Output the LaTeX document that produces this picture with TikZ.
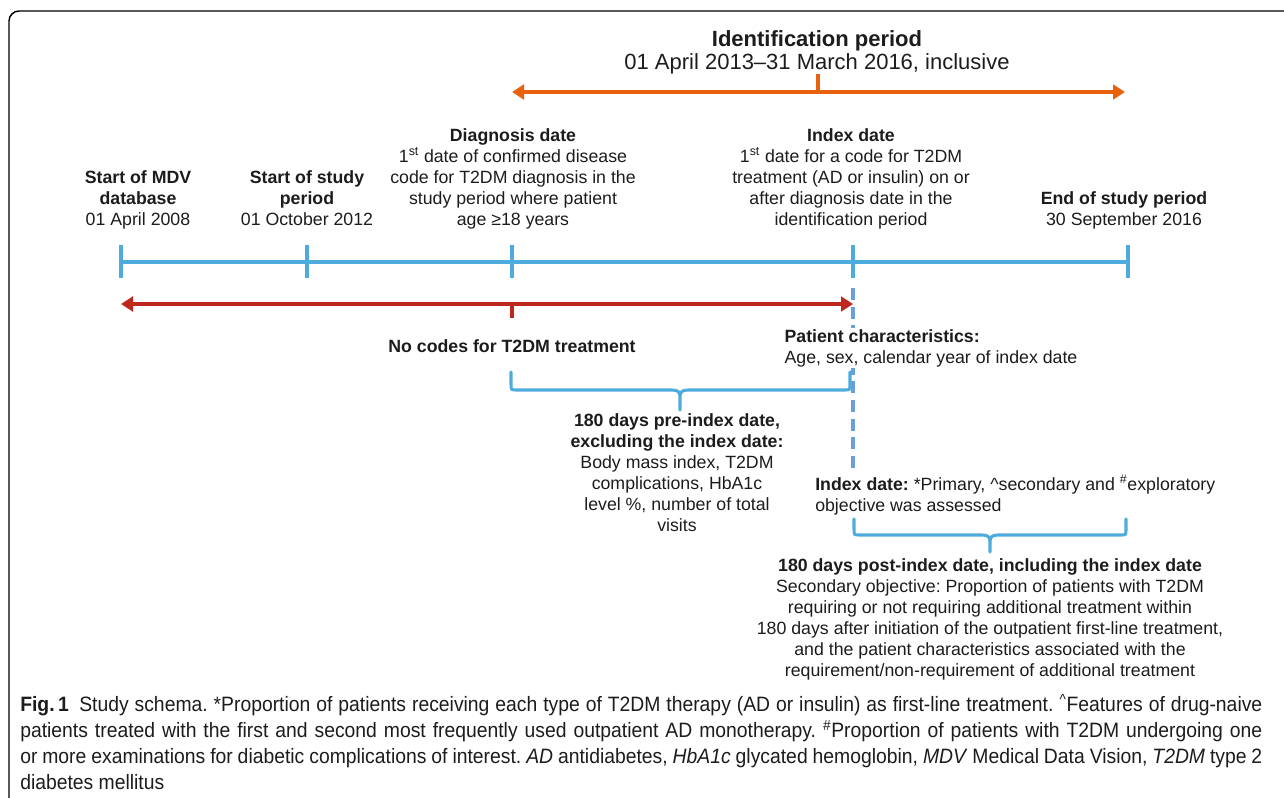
\documentclass[tikz,border=0pt]{standalone}
\usepackage{fontspec}
\setmainfont{Liberation Sans}
\newfontfamily\capfont[FakeStretch=0.93]{Liberation Sans}
\usetikzlibrary{arrows.meta}
\definecolor{tlblue}{RGB}{77,171,221}
\definecolor{dashblue}{RGB}{106,160,218}
\definecolor{idorange}{RGB}{232,98,14}
\definecolor{nored}{RGB}{190,40,30}
\definecolor{txt}{RGB}{28,28,28}
\newcommand\ubrace[6]{%
  \draw[bracestyle] (#1,#4) -- (#1,{#5-6}) .. controls (#1,#5) .. ({#1+6},#5) -- ({#3-8},#5)
    .. controls ({#3-2},#5) and (#3,{#5+2}) .. (#3,{#5+7}) -- (#3,#6)
    (#3,{#5+7}) .. controls (#3,{#5+2}) and ({#3+2},#5) .. ({#3+8},#5) -- ({#2-6},#5)
    .. controls (#2,#5) .. (#2,{#5-6}) -- (#2,#4);}
\frenchspacing
\begin{document}
\begin{tikzpicture}[x=0.75pt,y=-0.75pt,
  lbl/.style={inner sep=0pt, align=center, text=txt, font=\fontsize{13.3}{15.75}\selectfont},
  lbll/.style={lbl, align=left},
  tl/.style={draw=tlblue, line width=2.3pt},
  bracestyle/.style={draw=tlblue, line width=2.3pt, line cap=round},
  orangearr/.style={draw=idorange, line width=2.3pt, {Triangle[length=9pt,width=11pt]}-{Triangle[length=9pt,width=11pt]}},
  redarr/.style={draw=nored, line width=2.3pt, {Triangle[length=9pt,width=11pt]}-{Triangle[length=9pt,width=11pt]}},
  dashline/.style={draw=dashblue, line width=2.3pt, dash pattern=on 9pt off 5pt}]
\useasboundingbox (0,0) rectangle (1284,797);
% frame
\draw[line width=1.1pt, rounded corners=7.5pt] (9,800) -- (9,11) -- (1295,11);

% identification period
\node[lbl, anchor=north, font=\fontsize{16.5}{17.4}\selectfont] (idp) at (817,30)
  {{\bfseries Identification period}\\01 April 2013–31 March 2016, inclusive};
\coordinate (o1) at (512,92);
\coordinate (o2) at (1125,92);
\coordinate (oc) at (818,92);
\coordinate (ot) at (818,74);
\draw[orangearr] (o1) -- (o2);
\draw[draw=idorange, line width=2.3pt] (oc) -- (ot);

% timeline labels
\node[lbl, anchor=north] (mdv) at (138,170) {{\bfseries Start of MDV}\\{\bfseries database}\\01 April 2008};
\node[lbl, anchor=north] (sos) at (307,170) {{\bfseries Start of study}\\{\bfseries period}\\01 October 2012};
\node[lbl, anchor=north] (dd) at (513,128) {{\bfseries Diagnosis date}\\1\textsuperscript{st} date of confirmed disease\\code for T2DM diagnosis in the\\study period where patient\\age ≥18 years};
\node[lbl, anchor=north] (ixd) at (851,128) {{\bfseries Index date}\\1\textsuperscript{st} date for a code for T2DM\\treatment (AD or insulin) on or\\after diagnosis date in the\\identification period};
\node[lbl, anchor=north] (eos) at (1124,191) {{\bfseries End of study period}\\30 September 2016};

% timeline
\coordinate (t1) at (121,262);
\coordinate (t2) at (307,262);
\coordinate (t3) at (512,262);
\coordinate (t4) at (853,262);
\coordinate (t5) at (1128,262);
\draw[tl] (t1) -- (t5);
\foreach \p in {t1,t2,t3,t4,t5} \draw[tl] (\p) ++(0,-17) -- ++(0,33);

% red arrow
\coordinate (r1) at (121,304);
\coordinate (r2) at (853,304);
\coordinate (rc) at (512,304);
\coordinate (rt) at (512,318);
\draw[redarr] (r1) -- (r2);
\draw[draw=nored, line width=2.3pt] (rc) -- (rt);
\node[lbl, anchor=north, font=\fontsize{13.3}{15.75}\selectfont\bfseries] (noc) at (512,339) {No codes for T2DM treatment};

% dashed index line
\coordinate (d1) at (853,288);
\coordinate (d2) at (853,469);
\draw[dashline] (d1) -- (d2);

\node[lbll, anchor=north west, fill=white, inner sep=1pt] (pc) at (783,328) {{\bfseries Patient characteristics:}\\Age, sex, calendar year of index date};

% pre-index brace
\ubrace{511}{850}{680}{372}{390}{410}
\node[lbl, anchor=north] (pre) at (677,413) {{\bfseries 180 days pre-index date,}\\{\bfseries excluding the index date:}\\Body mass index, T2DM\\complications, HbA1c\\level \%, number of total\\visits};

\node[lbll, anchor=north west] (obj) at (815,475) {{\bfseries Index date:} *Primary, \textasciicircum secondary and \textsuperscript{\#}exploratory\\objective was assessed};

% post-index brace
\ubrace{854}{1126}{990}{519}{535}{552}
\node[lbl, anchor=north] (post) at (990,558) {{\bfseries 180 days post-index date, including the index date}\\Secondary objective: Proportion of patients with T2DM\\requiring or not requiring additional treatment within\\180 days after initiation of the outpatient first-line treatment,\\and the patient characteristics associated with the\\requirement/non-requirement of additional treatment};

% caption
\node[anchor=north west, inner sep=0pt, text width=931.5pt, align=justify, text=txt,
  font=\capfont\fontsize{15.6}{19.5}\selectfont] (cap) at (20,694)
  {{\bfseries Fig.\,1}\hspace{0.5em}Study schema. *Proportion of patients receiving each type of T2DM therapy (AD or insulin) as first-line treatment. \textsuperscript{\textasciicircum}Features of drug-naive\linebreak
  patients treated with the first and second most frequently used outpatient AD monotherapy. \textsuperscript{\#}Proportion of patients with T2DM undergoing one\linebreak
  or more examinations for diabetic complications of interest. \textit{AD} antidiabetes, \textit{HbA1c} glycated hemoglobin, \textit{MDV} Medical Data Vision, \textit{T2DM} type 2\linebreak
  diabetes mellitus};
\end{tikzpicture}
\end{document}
